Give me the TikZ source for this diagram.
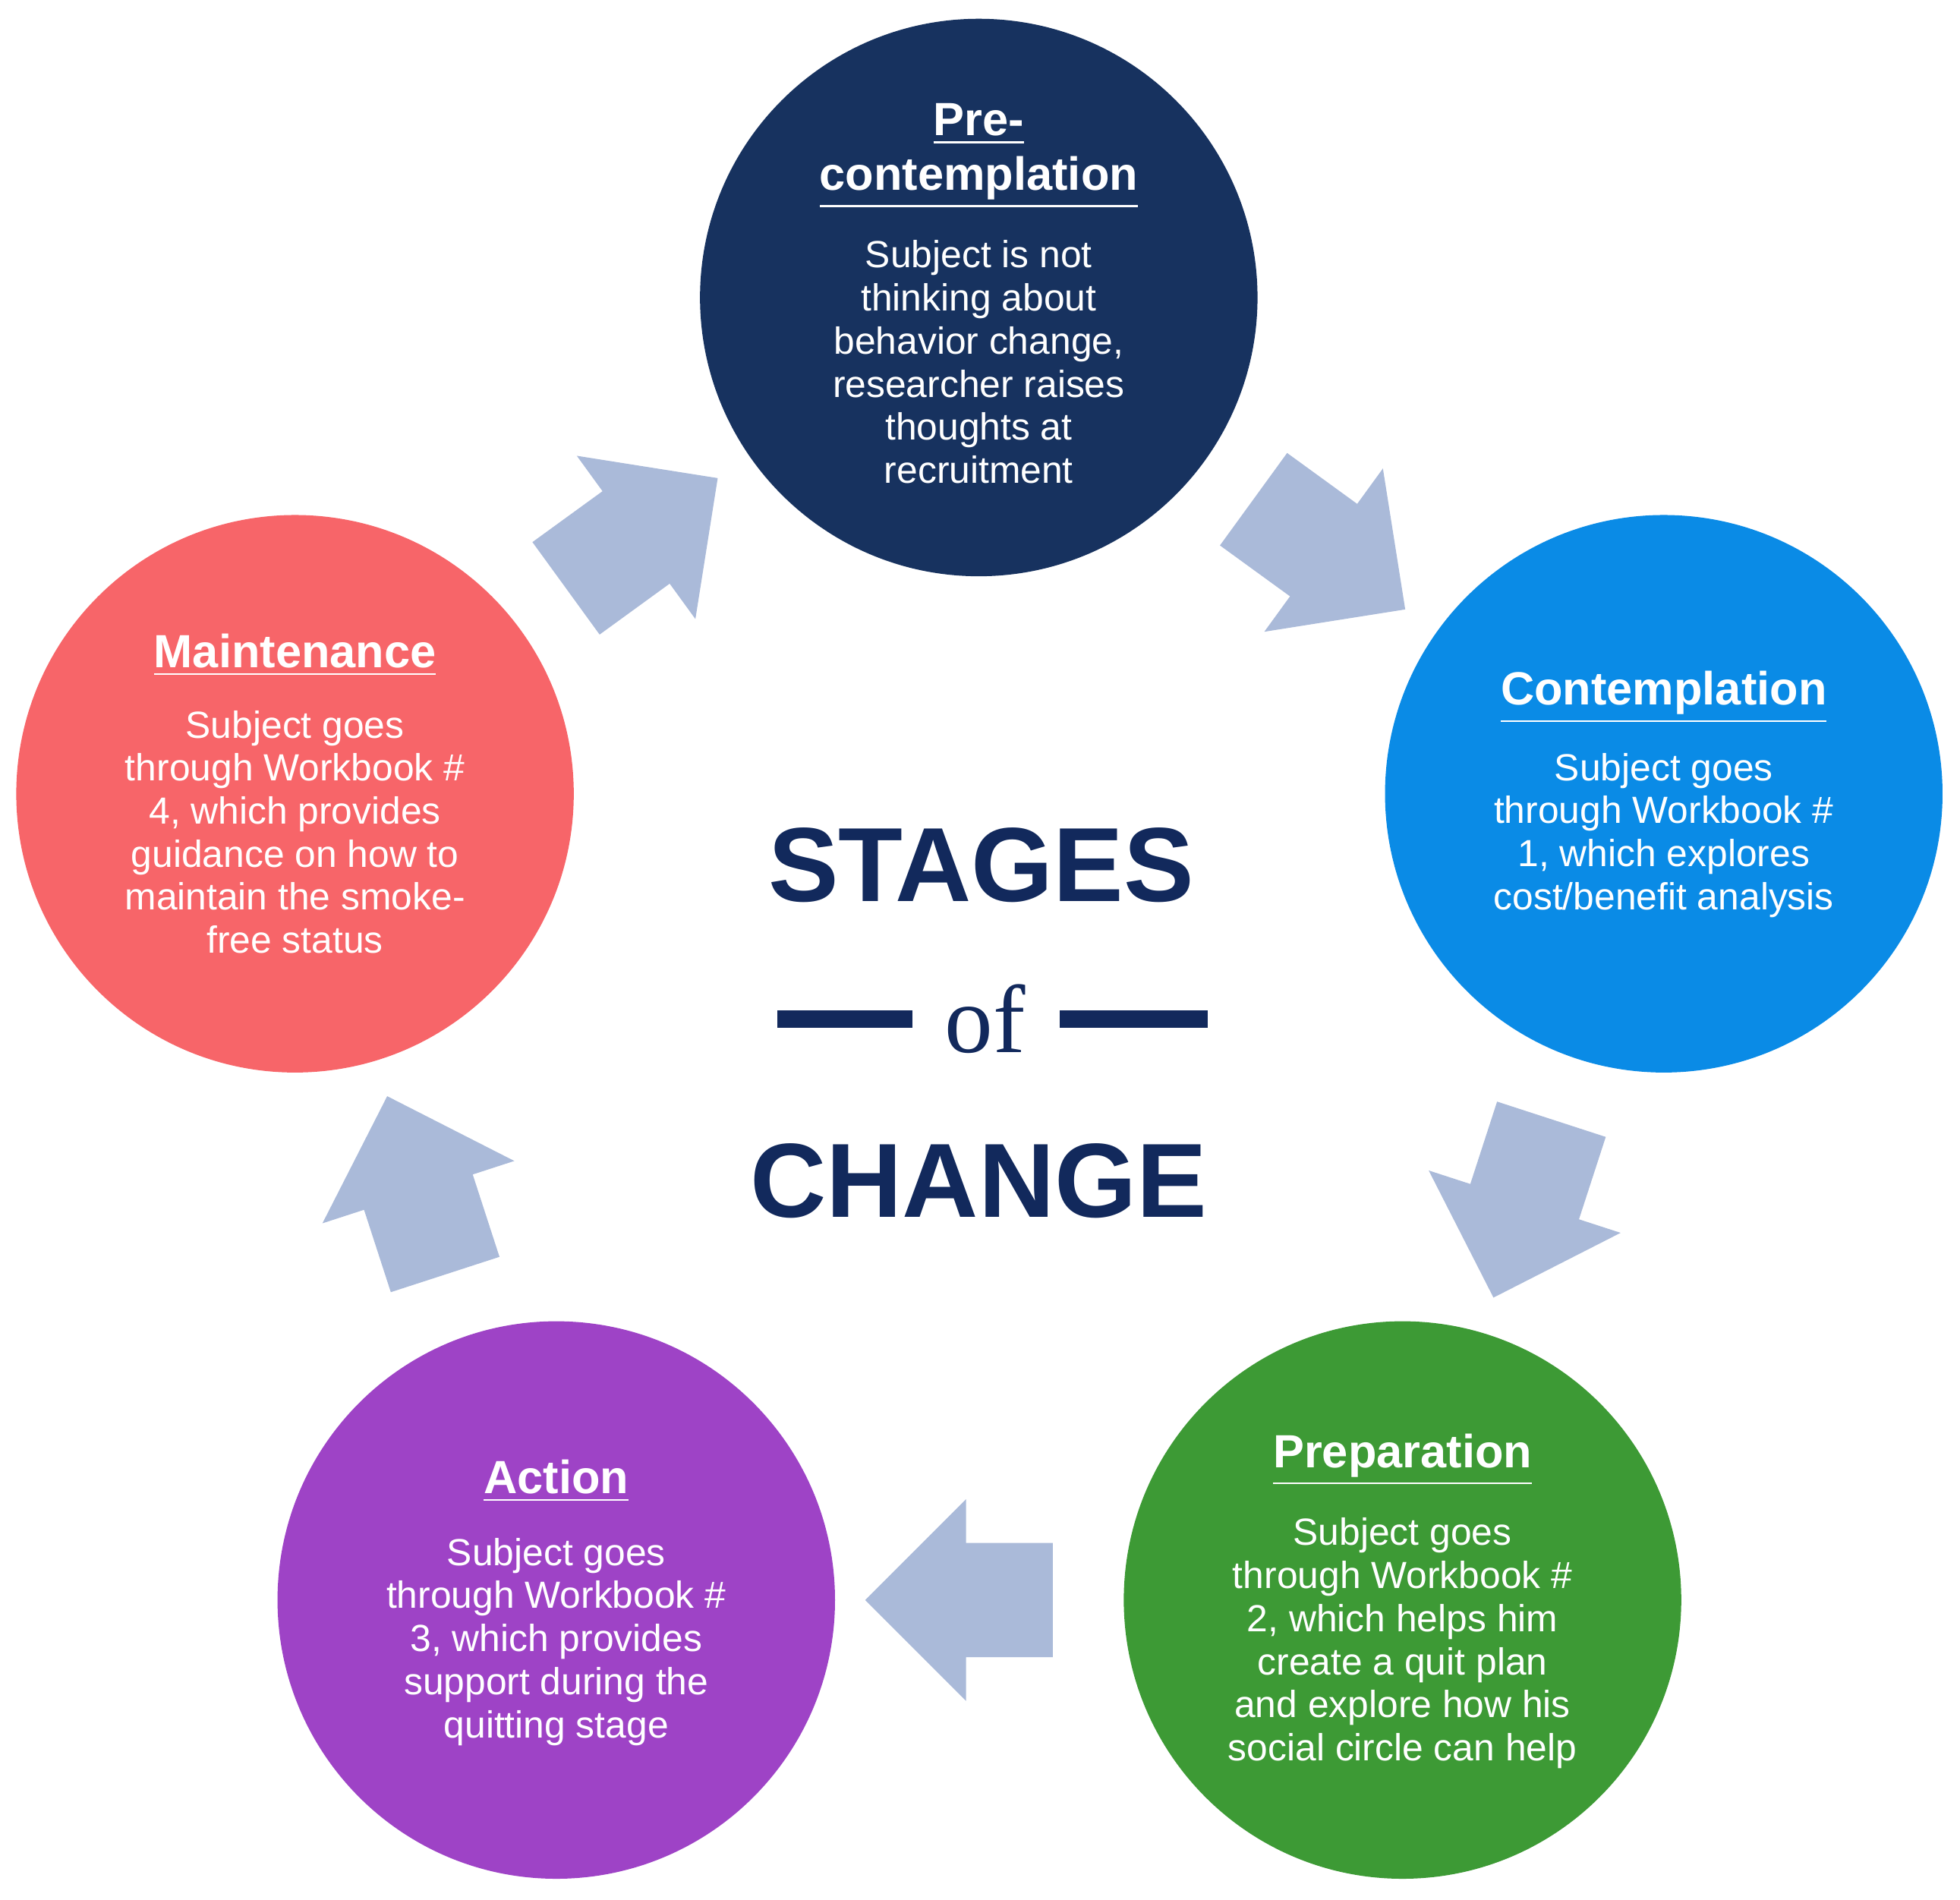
\documentclass[tikz,border=0pt]{standalone}
\usepackage{fontspec}
\setmainfont{Liberation Sans}
\usetikzlibrary{shapes.arrows}
\definecolor{navy}{HTML}{12295C}
\definecolor{precol}{HTML}{17325F}
\definecolor{concol}{HTML}{0A8BE6}
\definecolor{prepcol}{HTML}{3D9A35}
\definecolor{actcol}{HTML}{9E43C6}
\definecolor{maincol}{HTML}{F76569}
\definecolor{arrcol}{HTML}{AABAD9}
\tikzset{
  stage/.style={circle, minimum size=4.46cm, inner sep=0pt, text=white},
  txt/.style={text=white, align=center, font=\fontsize{8.6}{9.8}\selectfont},
  ttl/.style={text=white, font=\bfseries\fontsize{10.6}{12.4}\selectfont, align=center},
  flow/.style={single arrow, fill=arrcol, draw=none, minimum height=1.5cm,
    inner sep=0.45cm, single arrow head extend=0.35cm, single arrow head indent=0pt},
}
\begin{document}
\begin{tikzpicture}
  \useasboundingbox (0,0) rectangle (15.68,-15.20);

  % circles
  \node[stage, fill=precol] (pre) at (7.83,-2.38) {};
  \node[stage, fill=concol] (con) at (13.31,-6.35) {};
  \node[stage, fill=prepcol] (prep) at (11.22,-12.80) {};
  \node[stage, fill=actcol] (act) at (4.45,-12.80) {};
  \node[stage, fill=maincol] (main) at (2.36,-6.35) {};

  % texts
  \node[ttl] (preT) at (7.83,-1.25) {\underline{Pre-}\\\underline{contemplation}};
  \node[txt, below=0pt] at (7.83,-1.80) {Subject is not\\thinking about\\behavior change,\\researcher raises\\thoughts at\\recruitment};
  \node[ttl] (conT) at (13.31,-5.58) {\underline{Contemplation}};
  \node[txt, below=0pt] at (13.31,-5.90) {Subject goes\\through Workbook \#\\1, which explores\\cost/benefit analysis};
  \node[ttl] (prepT) at (11.22,-11.68) {\underline{Preparation}};
  \node[txt, below=0pt] at (11.22,-12.02) {Subject goes\\through Workbook \#\\2, which helps him\\create a quit plan\\and explore how his\\social circle can help};
  \node[ttl] (actT) at (4.45,-11.85) {\underline{Action}};
  \node[txt, below=0pt] at (4.45,-12.18) {Subject goes\\through Workbook \#\\3, which provides\\support during the\\quitting stage};
  \node[ttl] (mainT) at (2.36,-5.24) {\underline{Maintenance}};
  \node[txt, below=0pt] at (2.36,-5.56) {Subject goes\\through Workbook \#\\4, which provides\\guidance on how to\\maintain the smoke-\\free status};

  % arrows
  \node[flow, rotate=-36] (a1) at (10.45,-4.30) {};
  \node[flow, rotate=-108] (a2) at (12.25,-9.45) {};
  \node[flow, rotate=180] (a3) at (7.90,-12.80) {};
  \node[flow, rotate=108] (a4) at (3.40,-9.70) {};
  \node[flow, rotate=36] (a5) at (4.95,-4.40) {};

  % title
  \node[text=navy, font=\bfseries\fontsize{24}{28}\selectfont] (stages) at (7.85,-6.92) {STAGES};
  \node[text=navy, font=\itshape\bfseries\fontsize{22}{26}\selectfont] (of) at (7.88,-8.15) {\setmainfont{Liberation Serif}of};
  \node[text=navy, font=\bfseries\fontsize{24}{28}\selectfont] (change) at (7.83,-9.45) {CHANGE};
  \draw[navy, line width=1.4mm] (6.22,-8.15) -- (7.30,-8.15);
  \draw[navy, line width=1.4mm] (8.48,-8.15) -- (9.66,-8.15);
\end{tikzpicture}
\end{document}
